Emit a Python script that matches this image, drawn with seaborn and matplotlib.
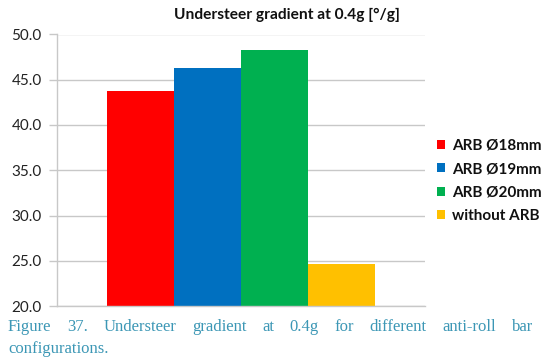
import numpy as np
import pandas as pd
import matplotlib
matplotlib.use("Agg")
import matplotlib.pyplot as plt
import seaborn as sns

# ------------------------------------------------------------------
# Data
# ------------------------------------------------------------------
configs = ["ARB Ø18mm", "ARB Ø19mm", "ARB Ø20mm", "without ARB"]
gradients = [43.8, 46.3, 48.3, 24.6]
colors = ["#FF0000", "#0070C0", "#00B050", "#FFC000"]
title = "Understeer gradient at 0.4g [°/g]"
caption_line1 = "Figure 37. Understeer gradient at 0.4g for different anti-roll bar"
caption_line2 = "configurations."
yticks = [20, 25, 30, 35, 40, 45, 50]

df = pd.DataFrame({"group": ["g"] * len(configs), "config": configs, "value": gradients})

sns.set_style("white")
plt.rcParams["font.family"] = ["Lato", "DejaVu Sans"]

fig = plt.figure(figsize=(5.6, 3.6), dpi=100)
ax = fig.add_axes([57 / 560, 1 - 306 / 360, (425 - 57) / 560, (306 - 34.5) / 360])

sns.barplot(data=df, x="group", y="value", hue="config", hue_order=configs,
            palette=colors, width=0.73, gap=0, saturation=1, linewidth=0,
            ax=ax, zorder=2)

ax.set_ylim(20, 50)
ax.set_yticks(yticks)
ax.set_yticklabels([f"{v:.1f}" for v in yticks], fontsize=11, color="#222222")
ax.set_xticks([])
ax.set_xlabel("")
ax.set_ylabel("")
ax.yaxis.grid(True, color="#C8C8C8", linewidth=1, zorder=0)
ax.set_axisbelow(True)
ax.tick_params(axis="y", length=6, color="#C8C8C8", width=1, pad=5, left=True)
for side in ["top", "right"]:
    ax.spines[side].set_visible(False)
for side in ["left", "bottom"]:
    ax.spines[side].set_color("#C8C8C8")
    ax.spines[side].set_linewidth(1)

sns.move_legend(ax, loc="center left", bbox_to_anchor=(437 / 560, 1 - 181 / 360),
                bbox_transform=fig.transFigure, frameon=False, title=None,
                fontsize=11, handlelength=0.55, handleheight=0.55, handletextpad=0.45,
                labelspacing=0.62, borderpad=0, borderaxespad=0)
for txt in ax.get_legend().get_texts():
    txt.set_fontweight("bold")
    txt.set_color("#111111")

fig.text(287 / 560, 1 - 15 / 360, title, ha="center", va="center",
         fontsize=11.2, fontweight="bold", color="#111111")

# Justified caption, serif, teal
cap_color = "#3C97B5"
cap_kw = dict(fontsize=12, color=cap_color, family="Liberation Serif", va="baseline")
fig.canvas.draw()
renderer = fig.canvas.get_renderer()
words = caption_line1.split()
left_px, right_px = 8, 533
arts = [fig.text(0, 0, w, **cap_kw) for w in words]
widths = [a.get_window_extent(renderer).width for a in arts]
gap = (right_px - left_px - sum(widths)) / (len(words) - 1)
x = left_px
for a, w in zip(arts, widths):
    a.set_position((x / 560, 1 - 331 / 360))
    x += w + gap
fig.text(left_px / 560, 1 - 353 / 360, caption_line2, **cap_kw)

fig.savefig("out.png", dpi=100)
